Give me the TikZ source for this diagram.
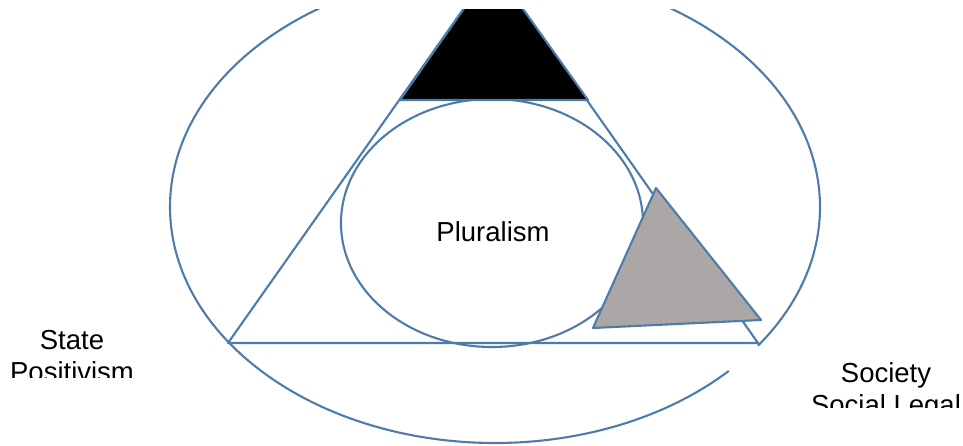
\documentclass[tikz,border=0pt]{standalone}
\usepackage{fontspec}
\setmainfont{Liberation Sans}
\usepackage{xcolor}
\usepackage{tikz}
\usetikzlibrary{calc,positioning}

\definecolor{edgeblue}{RGB}{78,123,170}
\definecolor{shadegray}{RGB}{171,167,166}

\begin{document}
\begin{tikzpicture}[x=1pt,y=-1pt,line join=round,
    outline/.style={draw=edgeblue,line width=2.1pt},
    every node/.style={font=\fontsize{27.5}{32}\selectfont,inner sep=0pt,align=center}]
  \useasboundingbox (0,0) rectangle (963,446);
  % corners of the big triangle
  \coordinate (apex) at (493,-33);
  \coordinate (left) at (228,343);
  \coordinate (right) at (758,343);
  \coordinate (ctr) at (495,207);
  \begin{scope}
    \clip (0,10) rectangle (963,446);
    \draw[outline] ($(ctr)+(44:325 and 236)$)
      arc[start angle=44,end angle=396,x radius=325,y radius=236];
    \draw[outline] (apex) -- (left) -- (right) -- cycle;
    \draw[outline] (492,223) ellipse[x radius=151,y radius=124];
    \draw[outline,fill=black] (apex) -- (400,100) -- (588,100) -- cycle;
    \draw[outline,fill=shadegray] (656,188) -- (593,328) -- (761,320) -- cycle;
  \end{scope}
  \node (plural) at (493,232) {Pluralism};
  \begin{scope}
    \clip (0,10) rectangle (963,377);
    \node[anchor=base] (state) at (72,381) {State\\Positivism};
  \end{scope}
  \begin{scope}
    \clip (700,10) rectangle (963,407);
    \node[anchor=base] (society) at (886,414) {Society\\Social Legal};
  \end{scope}
\end{tikzpicture}
\end{document}
